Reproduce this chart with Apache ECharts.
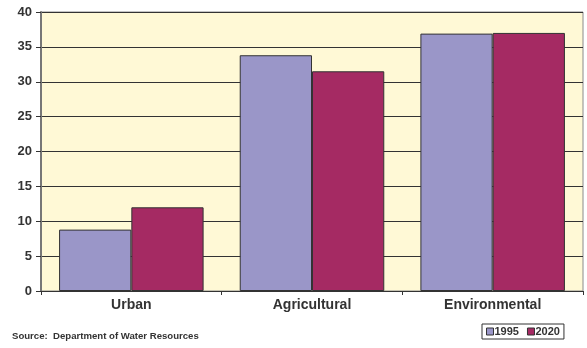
<!DOCTYPE html>
<html>
<head>
<meta charset="utf-8">
<script src="https://cdn.jsdelivr.net/npm/echarts@6/dist/echarts.min.js"></script>
<style>
  html, body { margin: 0; padding: 0; background: #fff; }
  #chart { width: 587px; height: 348px; }
</style>
</head>
<body>
<div id="chart"></div>
<script>
// Water use by sector (millions of acre-feet), 1995 vs 2020
const categories = ['Urban', 'Agricultural', 'Environmental'];
const seriesNames = ['1995', '2020'];
const values1995 = [8.8, 33.8, 36.9];
const values2020 = [12.0, 31.5, 37.0];
const yTicks = [0, 5, 10, 15, 20, 25, 30, 35, 40];
const sourceNote = 'Source:  Department of Water Resources';

const FONT = '"Liberation Sans", Arial, sans-serif';
const chart = echarts.init(document.getElementById('chart'), null, { renderer: 'canvas' });

chart.setOption({
  animation: false,
  backgroundColor: '#ffffff',
  grid: {
    left: 41, right: 4, top: 12, bottom: 57,
    show: true,
    backgroundColor: '#FFF9D6',
    borderColor: '#8a8a8a',
    borderWidth: 1
  },
  legend: {
    data: seriesNames,
    left: 482, top: 324,
    itemWidth: 7, itemHeight: 7, itemGap: 8,
    padding: [2, 4, 2, 4],
    borderColor: '#333', borderWidth: 1,
    itemStyle: { borderColor: '#333', borderWidth: 1 },
    textStyle: { fontFamily: FONT, fontSize: 11, fontWeight: 'bold', color: '#333', padding: [0, 0, 0, -4] },
    icon: 'rect'
  },
  xAxis: {
    type: 'category',
    data: categories,
    axisLine: { lineStyle: { color: '#333', width: 1 } },
    axisTick: { show: true, length: 4, lineStyle: { color: '#333' } },
    axisLabel: { fontFamily: FONT, fontSize: 14, fontWeight: 'bold', color: '#333', margin: 7 }
  },
  yAxis: {
    type: 'value',
    min: yTicks[0], max: yTicks[yTicks.length - 1], interval: 5,
    axisLine: { show: true, lineStyle: { color: '#777', width: 2 } },
    axisTick: { show: true, length: 5, lineStyle: { color: '#333' } },
    axisLabel: { fontFamily: FONT, fontSize: 13, fontWeight: 'bold', color: '#333', margin: 9 },
    splitLine: { lineStyle: { color: '#333', width: 1 } }
  },
  series: [
    {
      name: seriesNames[0], type: 'bar', data: values1995,
      barGap: '0%', barCategoryGap: '20%',
      itemStyle: { color: '#9A96C8', borderColor: '#333', borderWidth: 1 }
    },
    {
      name: seriesNames[1], type: 'bar', data: values2020,
      itemStyle: { color: '#A52A63', borderColor: '#333', borderWidth: 1 }
    }
  ],
  graphic: [
    {
      type: 'text', left: 12, top: 331,
      style: { text: sourceNote, font: 'bold 9.6px ' + FONT, fill: '#333' }
    }
  ]
});
</script>
</body>
</html>
